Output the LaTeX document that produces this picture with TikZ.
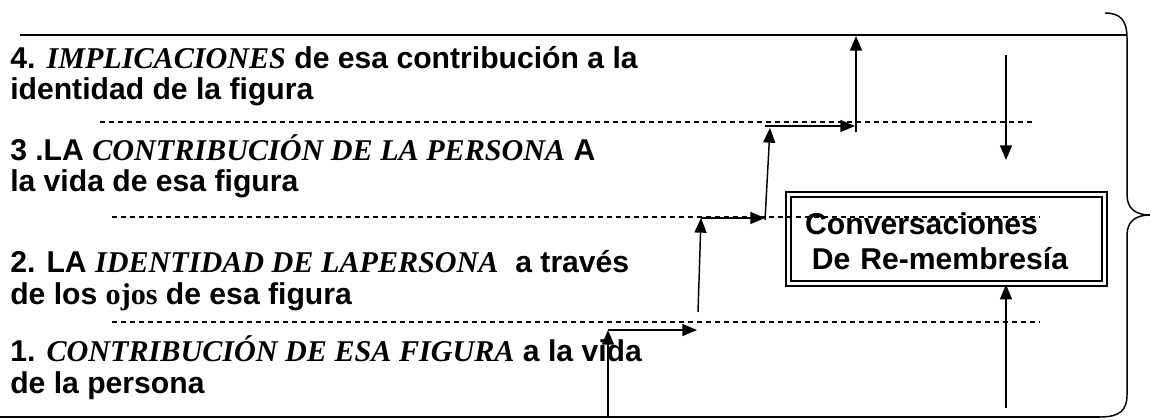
\documentclass[tikz,border=0pt]{standalone}
\usepackage{fontspec}
\setmainfont{Liberation Sans}[BoldFont={Liberation Sans Bold}]
\newfontfamily\tnr{Liberation Serif}
\usetikzlibrary{arrows.meta, positioning, calc}

\newcommand{\tnrit}[1]{{\tnr\bfseries\itshape #1}}
\newcommand{\tnrup}[1]{{\tnr\bfseries #1}}

\begin{document}
\begin{tikzpicture}[
  x=0.75pt, y=-0.75pt,
  font=\fontsize{22.6}{23.3}\selectfont\bfseries,
  para/.style={anchor=base west, align=left, inner sep=0pt},
  frame/.style={line width=1.1pt},
  sep/.style={dash pattern=on 3.75pt off 3pt, line width=0.8pt},
  arrow/.style={-{Triangle[length=11pt, width=9pt]}, line width=1.1pt},
  box/.style={draw, double, line width=1.5pt, double distance=1.8pt, minimum width=237pt, minimum height=67pt,
    text width=212pt, align=left, inner xsep=12pt, font=\fontsize{22.6}{26.5}\selectfont\bfseries}
]
\useasboundingbox (0,0) rectangle (1151,420);

% the four steps (anchored on the last line)
\node[para] (p4) at (10,100) {4. \tnrit{IMPLICACIONES} de esa contribución a la\\identidad de la figura};
\node[para] (p3) at (10,192) {3 .LA \tnrit{CONTRIBUCIÓN DE LA PERSONA} A\\la vida de esa figura};
\node[para] (p2) at (10,304) {2. LA \tnrit{IDENTIDAD DE LAPERSONA}\ \ a través\\de los \tnrup{ojos} de esa figura};
\node[para] (p1) at (10,393) {1. \tnrit{CONTRIBUCIÓN DE ESA FIGURA} a la vida\\de la persona};

\node[box] (conv) at (946.5,239) {\rule{0pt}{20pt}Conversaciones\\\hspace*{5pt}De Re-membresía};

% frame and brace
\draw[frame] (20,35) -- (1127,35);
\draw[frame] (0,417) -- (1100,417);
\draw[frame] (1105,13) .. controls (1120,13) and (1127,20) .. (1127,38) -- (1127,195)
  .. controls (1127,208) and (1135,215) .. (1150,215)
  .. controls (1135,215) and (1127,222) .. (1127,235) -- (1127,395)
  .. controls (1127,410) and (1120,417) .. (1100,417);

% levels
\draw[sep] (100,122) -- (1032,122);
\draw[sep] (112,217) -- (1040,217);
\draw[sep] (112,322) -- (1040,322);

% staircase
\coordinate (s0) at (608,417);
\coordinate (s1) at (608,330);
\coordinate (s2) at (697,330);
\coordinate (s3) at (698,312);
\coordinate (s4) at (701,218);
\coordinate (s5) at (765,218);
\coordinate (s6) at (765,220);
\coordinate (s7) at (770,128);
\coordinate (s8) at (765,126);
\coordinate (s9) at (855,126);
\coordinate (s10) at (856,132);
\coordinate (s11) at (856,36);
\draw[arrow] (s0) -- (s1);
\draw[arrow] (s1) -- (s2);
\draw[arrow] (s3) -- (s4);
\draw[arrow] (s4) -- (s5);
\draw[arrow] (s6) -- (s7);
\draw[arrow] (s8) -- (s9);
\draw[arrow] (s10) -- (s11);

\coordinate (dtop) at (1006,55);
\coordinate (dend) at (1006,160);
\coordinate (ubot) at (1006,408);
\draw[arrow] (dtop) -- (dend);
\draw[arrow] (ubot) -- (ubot |- conv.south);
\end{tikzpicture}
\end{document}
